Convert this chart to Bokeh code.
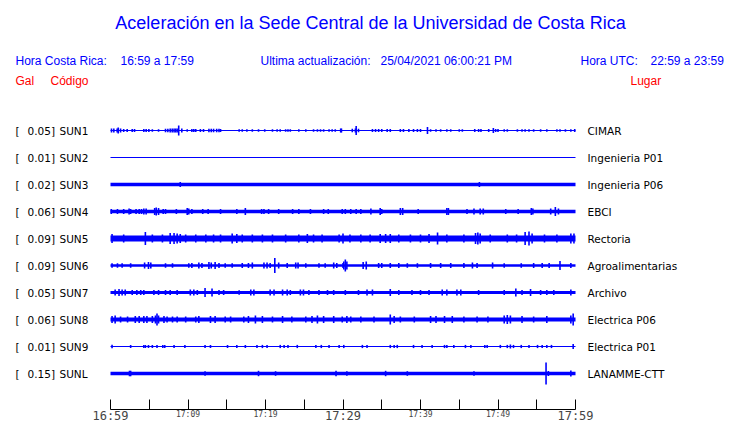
from bokeh.plotting import figure
from bokeh.models import Range1d, LinearAxis, FixedTicker, Label, LabelSet, ColumnDataSource
from bokeh.core.properties import value
from bokeh.embed import file_html
from bokeh.resources import INLINE

# ---------------- data ----------------
codes = ["SUN1", "SUN2", "SUN3", "SUN4", "SUN5", "SUN6", "SUN7", "SUN8", "SUN9", "SUNL"]
peak_gal = ["0.05", "0.01", "0.02", "0.06", "0.09", "0.09", "0.05", "0.06", "0.01", "0.15"]
places = ["CIMAR", "Ingenieria P01", "Ingenieria P06", "EBCI", "Rectoria", "Agroalimentarias",
          "Archivo", "Electrica P06", "Electrica P01", "LANAMME-CTT"]
# background noise half-amplitude of each trace (relative units, row spacing = 27)
noise_amp = [0.6, 0.6, 1.7, 1.7, 3.0, 1.3, 1.5, 2.0, 0.6, 1.7]

# minutes after 16:59 and half-amplitudes of the bursts of each trace
sun1_t = [0.13, 0.43, 0.86, 1.0, 1.3, 1.7, 2.15, 2.8, 3.1, 4.3, 4.6, 4.95, 5.4, 6.2, 7.1, 7.4, 7.7, 7.96,
          8.2, 8.4, 8.6, 8.8, 9.2, 9.9, 10.5, 10.75, 11.0, 11.6, 12.0, 12.7, 13.0, 13.3, 13.7, 14.0, 14.2,
          16.6, 17.0, 17.6, 18.3, 19.1, 19.9, 20.9, 21.5, 21.9, 22.6, 22.9, 23.2, 24.3, 25.2, 26.2, 26.7,
          27.1, 27.5, 28.2, 28.6, 29.0, 29.7, 29.8, 31.2, 31.6, 31.7, 32.0, 33.8, 34.2, 34.6, 35.0, 35.7,
          36.1, 37.4, 37.8, 38.5, 39.1, 39.6, 40.0, 40.9, 41.3, 42.0, 42.6, 43.4, 43.9, 45.0, 45.4, 47.0,
          47.5, 47.8, 48.8, 49.4, 49.7, 50.0, 50.8, 51.2, 52.5, 53.1, 53.5, 54.0, 54.6, 55.5, 56.3, 57.6,
          58.0, 58.7, 59.4, 59.9]
sun1_a = [2.0, 2.0, 2.0, 3.0, 2.0, 1.5, 1.5, 1.5, 1.5, 1.5, 1.5, 1.5, 1.3, 1.3, 1.8, 1.8, 2.0, 2.0,
          2.0, 2.0, 2.0, 5.0, 2.0, 1.3, 1.5, 1.5, 1.5, 1.5, 1.5, 1.8, 1.8, 1.8, 1.8, 1.8, 1.5,
          1.3, 1.3, 1.3, 1.3, 1.3, 1.3, 1.3, 1.3, 1.3, 1.3, 1.3, 1.3, 1.3, 1.3, 1.3, 1.3,
          1.3, 1.3, 1.3, 1.3, 1.3, 2.0, 2.0, 1.8, 2.0, 4.5, 1.8, 1.5, 1.5, 1.5, 1.5, 1.5,
          1.5, 1.5, 1.5, 1.5, 1.5, 1.5, 1.5, 3.5, 1.3, 1.3, 1.3, 1.3, 1.3, 1.3, 1.3, 1.5,
          1.5, 1.5, 1.5, 2.5, 1.5, 1.5, 1.3, 1.3, 1.3, 1.3, 1.3, 1.3, 1.3, 1.3, 1.3, 1.3,
          1.3, 1.3, 1.3, 1.5]
sun2_t = []
sun2_a = []
sun3_t = [9.0, 47.6]
sun3_a = [2.6, 2.6]
sun4_t = [0.1, 0.9, 1.7, 2.4, 2.6, 3.3, 3.7, 4.0, 4.3, 4.6, 5.7, 5.9, 6.2, 6.8, 7.1, 8.5, 9.9, 10.1, 10.5,
          11.9, 12.6, 14.2, 16.3, 17.4, 19.5, 19.8, 20.4, 21.7, 23.5, 24.3, 25.8, 27.5, 28.1, 29.9, 30.3,
          31.0, 31.7, 32.3, 33.6, 34.8, 35.0, 37.4, 37.7, 39.7, 43.4, 43.6, 46.0, 46.9, 47.7, 48.1, 51.0,
          52.6, 54.3, 54.5, 56.8, 57.4, 57.8]
sun4_a = [2.5, 2.5, 2.5, 3.0, 2.5, 2.5, 2.5, 2.5, 3.0, 3.0, 3.5, 4.0, 3.5, 2.5, 2.5, 2.5, 3.5, 3.0, 2.5,
          2.5, 2.5, 2.5, 2.5, 3.5, 2.5, 2.5, 2.5, 2.5, 2.5, 2.5, 2.5, 2.5, 2.5, 2.5, 2.5,
          2.5, 2.5, 2.5, 3.0, 3.5, 2.5, 3.5, 3.5, 2.5, 3.5, 3.5, 2.5, 3.0, 3.0, 3.0, 2.5,
          2.5, 3.5, 3.0, 3.0, 4.5, 3.0]
sun5_t = [0.2, 1.7, 4.5, 5.4, 6.7, 7.7, 8.2, 8.6, 9.0, 9.7, 11.0, 12.3, 13.3, 14.2, 15.7, 16.3, 17.0,
          18.3, 19.6, 20.9, 22.6, 24.3, 25.4, 26.2, 27.3, 29.5, 30.0, 30.9, 32.3, 33.5, 34.8, 35.5, 36.1,
          37.2, 38.7, 40.0, 41.1, 42.2, 43.4, 45.6, 47.1, 47.4, 47.7, 49.0, 51.2, 52.4, 53.5, 54.0, 54.4,
          56.0, 57.6, 59.4, 59.8]
sun5_a = [4.5, 4.0, 6.5, 4.0, 4.0, 5.5, 5.5, 5.0, 4.5, 4.0, 4.0, 4.0, 4.0, 4.0, 5.0, 4.5, 4.0,
          4.0, 4.0, 4.0, 4.0, 4.0, 4.5, 4.0, 4.0, 4.0, 5.0, 4.0, 4.0, 4.0, 4.5, 4.5, 4.5,
          4.0, 4.0, 4.0, 4.5, 6.0, 4.0, 4.0, 5.5, 6.0, 5.0, 4.0, 4.0, 4.0, 6.5, 7.0, 5.0,
          4.0, 4.0, 5.0, 5.0]
sun6_t = [0.2, 0.9, 1.5, 2.6, 4.4, 4.9, 5.2, 7.1, 8.0, 10.1, 10.5, 11.4, 11.8, 12.7, 13.0, 13.5, 14.0,
          14.8, 15.7, 17.0, 17.8, 18.3, 19.8, 20.2, 20.6, 21.2, 21.7, 22.8, 23.9, 24.2, 25.2, 26.9, 27.7,
          28.8, 29.2, 30.0, 30.1, 30.3, 30.5, 32.6, 33.0, 34.6, 35.0, 36.1, 37.2, 38.3, 39.6, 41.3, 42.6,
          43.9, 45.6, 46.7, 47.3, 49.3, 50.8, 53.0, 54.6, 55.7, 56.6, 58.0, 59.4]
sun6_a = [2.3, 2.3, 2.3, 2.3, 3.0, 3.5, 3.0, 2.3, 2.3, 2.3, 2.5, 3.0, 2.5, 3.5, 3.0, 3.5, 2.5,
          2.3, 2.3, 2.5, 2.5, 3.0, 3.0, 3.0, 2.5, 7.5, 3.0, 2.5, 3.0, 3.0, 2.3, 2.3, 2.3,
          3.0, 2.5, 2.5, 4.0, 6.0, 4.0, 3.5, 4.0, 2.5, 2.5, 2.5, 2.5, 2.3, 2.3, 2.5, 2.5,
          2.5, 2.5, 3.0, 2.5, 3.0, 2.3, 2.3, 2.5, 2.5, 2.5, 4.5, 2.5]
sun7_t = [0.6, 1.1, 1.5, 1.9, 2.8, 3.4, 3.9, 4.3, 5.6, 6.2, 7.1, 7.7, 8.6, 10.3, 10.75, 11.2, 12.2, 13.1,
          14.0, 14.6, 16.6, 18.1, 18.5, 20.6, 21.1, 22.2, 22.8, 23.2, 24.5, 24.9, 25.6, 26.9, 28.0, 28.8,
          30.3, 32.0, 33.1, 33.8, 36.1, 37.2, 38.9, 40.0, 41.1, 42.8, 43.4, 44.7, 45.2, 47.5, 50.8, 52.3,
          53.1, 54.2, 55.5, 56.3, 57.2, 59.4]
sun7_a = [3.0, 3.5, 3.0, 3.0, 2.5, 2.5, 2.5, 2.5, 2.5, 2.5, 2.5, 2.5, 2.5, 3.0, 3.0, 2.5, 4.5, 4.0,
          2.5, 2.5, 2.3, 3.0, 3.0, 3.0, 3.0, 3.0, 3.0, 2.5, 3.0, 3.0, 2.5, 2.5, 2.5, 2.5,
          2.5, 2.5, 3.0, 3.0, 3.5, 2.5, 2.5, 2.5, 2.5, 3.0, 3.0, 3.0, 3.0, 2.5, 2.5, 4.0,
          2.5, 3.5, 2.5, 2.5, 2.5, 3.0]
sun8_t = [0.2, 0.6, 1.3, 2.2, 3.2, 3.7, 4.3, 4.7, 5.4, 5.8, 6.0, 6.2, 6.9, 7.3, 8.0, 8.6, 9.7, 11.0,
          11.4, 12.9, 13.5, 14.8, 15.5, 17.2, 17.8, 18.7, 19.6, 20.9, 22.2, 23.4, 25.2, 26.0, 26.7, 27.5,
          28.8, 29.9, 30.5, 31.0, 32.3, 34.0, 36.1, 36.6, 37.4, 39.2, 41.3, 42.0, 43.1, 44.1, 45.6, 47.3,
          48.7, 50.8, 51.2, 51.6, 53.1, 54.6, 56.3, 59.4, 59.7]
sun8_a = [3.5, 4.0, 3.0, 3.0, 3.5, 3.5, 3.5, 3.5, 3.5, 4.0, 6.0, 4.0, 3.5, 3.0, 3.0, 3.0, 3.0, 3.0,
          3.5, 3.5, 3.5, 3.0, 3.0, 3.0, 3.5, 4.0, 3.5, 3.0, 3.5, 3.0, 3.0, 3.5, 4.0, 3.5,
          3.5, 3.0, 3.5, 3.0, 3.0, 3.0, 5.0, 3.5, 3.0, 3.0, 3.5, 3.5, 3.5, 3.5, 3.0, 3.0,
          3.0, 4.0, 4.5, 4.0, 3.5, 3.0, 3.5, 4.0, 6.0]
sun9_t = [0.2, 2.6, 4.3, 4.5, 4.9, 5.4, 6.0, 6.75, 7.0, 8.2, 9.6, 12.2, 12.9, 15.1, 16.3, 17.4, 18.9,
          19.6, 20.2, 21.9, 22.4, 22.9, 24.1, 26.5, 27.2, 28.2, 29.5, 30.1, 32.5, 33.1, 36.1, 36.6, 37.0,
          39.1, 40.2, 41.5, 43.1, 43.4, 44.3, 45.8, 46.5, 48.3, 48.6, 50.3, 51.2, 51.6, 52.0, 53.0, 54.0,
          55.1, 55.7, 56.3, 56.9, 59.7]
sun9_a = [1.8, 1.6, 1.6, 1.6, 1.6, 1.6, 1.6, 1.6, 1.6, 1.6, 1.6, 1.6, 1.6, 1.6, 1.6, 1.6, 1.6,
          1.6, 1.6, 1.6, 1.6, 1.6, 1.6, 1.6, 1.6, 1.6, 1.6, 1.6, 1.6, 1.6, 1.6, 1.6, 1.6,
          1.6, 1.6, 1.6, 1.6, 1.6, 1.6, 1.6, 1.6, 1.6, 1.6, 1.6, 1.6, 2.0, 1.6, 1.6, 1.6,
          1.6, 1.6, 1.6, 1.6, 2.5]
sunl_t = [2.45, 2.6, 12.2, 19.1, 21.3, 29.1, 30.5, 35.5, 38.3, 46.9, 56.2, 56.5, 59.4]
sunl_a = [2.7, 2.7, 2.3, 2.7, 2.3, 2.7, 2.3, 2.7, 2.3, 2.3, 11.0, 2.5, 3.0]

event_t = [sun1_t, sun2_t, sun3_t, sun4_t, sun5_t, sun6_t, sun7_t, sun8_t, sun9_t, sunl_t]
event_a = [sun1_a, sun2_a, sun3_a, sun4_a, sun5_a, sun6_a, sun7_a, sun8_a, sun9_a, sunl_a]

window_minutes = 60
tick_minutes = list(range(0, 61, 5))
small_tick_labels = {10: "17:09", 20: "17:19", 40: "17:39", 50: "17:49"}
big_tick_minutes = [0, 30, 60]
big_tick_labels = ["16:59", "17:29", "17:59"]

# ---------------- layout ----------------
W, H = 740, 423
FB = H                  # frame covers the whole canvas
AXIS_PX = 409           # pixel row of the time axis line
T0_PX = 110             # pixel of 16:59
PX_PER_MIN = 7.75
ROW0_PX = 130
ROW_PX = 27.0

BLUE = "#0000ff"

p = figure(width=W, height=H, output_backend="svg", toolbar_location=None,
           x_axis_type=None, y_axis_type=None,
           x_range=Range1d(-T0_PX / PX_PER_MIN, (W - T0_PX) / PX_PER_MIN),
           y_range=Range1d((FB - ROW0_PX) / ROW_PX, -ROW0_PX / ROW_PX),
           min_border_left=0, min_border_right=0, min_border_top=0, min_border_bottom=0)
p.outline_line_color = None
p.xgrid.visible = False
p.ygrid.visible = False
p.background_fill_color = "white"
p.border_fill_color = "white"

rows = list(range(len(codes)))

# noise bands
p.quad(left=[0] * len(rows), right=[window_minutes] * len(rows),
       bottom=[r - noise_amp[r] / ROW_PX for r in rows],
       top=[r + noise_amp[r] / ROW_PX for r in rows],
       fill_color=BLUE, line_color=None)

# bursts
xs, y0, y1 = [], [], []
for r in rows:
    for t, a in zip(event_t[r], event_a[r]):
        xs.append(t)
        y0.append(r - a / ROW_PX)
        y1.append(r + a / ROW_PX)
p.segment(x0=xs, x1=xs, y0=y0, y1=y1, line_color=BLUE, line_width=1.6)

axis_row = (AXIS_PX - ROW0_PX) / ROW_PX

# time axis: ticks + small labels
ax = LinearAxis(ticker=FixedTicker(ticks=tick_minutes), bounds=(0, window_minutes),
                fixed_location=axis_row)
ax.major_tick_in = 10
ax.major_tick_out = 0
ax.minor_tick_in = 0
ax.minor_tick_out = 0
ax.axis_line_color = "black"
ax.major_tick_line_color = "black"
ax.major_label_overrides = {m: small_tick_labels.get(m, "") for m in tick_minutes}
ax.major_label_text_font = "DejaVu Sans Mono"
ax.major_label_text_font_size = "8px"
ax.major_label_standoff = 0
p.add_layout(ax, "below")

# the large hour labels
ax2 = LinearAxis(ticker=FixedTicker(ticks=big_tick_minutes), fixed_location=axis_row)
ax2.axis_line_color = None
ax2.major_tick_line_color = None
ax2.minor_tick_line_color = None
ax2.major_label_overrides = {m: lab for m, lab in zip(big_tick_minutes, big_tick_labels)}
ax2.major_label_text_font = "DejaVu Sans Mono"
ax2.major_label_text_font_size = "12px"
ax2.major_label_standoff = -7
p.add_layout(ax2, "below")

# station labels
src = ColumnDataSource(dict(row=rows, peak=[p_ + "]" for p_ in peak_gal], code=codes,
                            place=places, br=["["] * len(rows)))
for field, xpx in (("br", 15), ("peak", 27), ("code", 59), ("place", 587)):
    p.add_layout(LabelSet(x=xpx, y="row", x_units="screen", text=field, source=src,
                          text_font=value("DejaVu Sans"), text_font_size="10.5px",
                          text_baseline="middle", text_align="left", text_color="black"))

# header texts
def header(text, x, y, color=BLUE, size="12px", align="left"):
    p.add_layout(Label(x=x, y=FB - y, x_units="screen", y_units="screen", text=text,
                       text_font="Liberation Sans", text_font_size=size, text_color=color,
                       text_align=align, text_baseline="middle"))

header("Aceleración en la Sede Central de la Universidad de Costa Rica", 370, 22, size="18px", align="center")
header("Hora Costa Rica:", 15, 60)
header("16:59 a 17:59", 120, 60)
header("Ultima actualización:", 260, 60)
header("25/04/2021 06:00:21 PM", 380, 60)
header("Hora UTC:", 580, 60)
header("22:59 a 23:59", 650, 60)
header("Gal", 15, 80, color="red")
header("Código", 50, 80, color="red")
header("Lugar", 630, 80, color="red")

open("out.html", "w").write(file_html(p, INLINE))
